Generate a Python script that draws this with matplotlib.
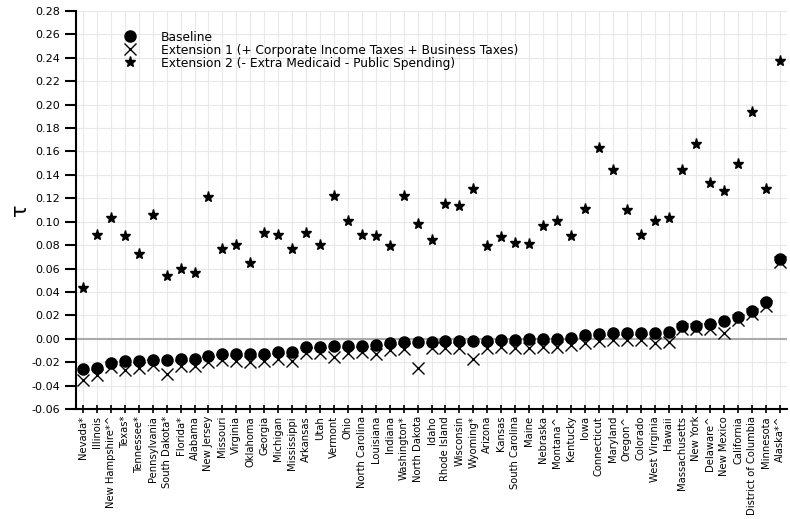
import matplotlib
matplotlib.use("Agg")
import matplotlib.pyplot as plt
import numpy as np

states = ["Nevada*", "Illinois", "New Hampshire*^", "Texas*", "Tennessee*", "Pennsylvania",
          "South Dakota*", "Florida*", "Alabama", "New Jersey", "Missouri", "Virginia",
          "Oklahoma", "Georgia", "Michigan", "Mississippi", "Arkansas", "Utah", "Vermont",
          "Ohio", "North Carolina", "Louisiana", "Indiana", "Washington*", "North Dakota",
          "Idaho", "Rhode Island", "Wisconsin", "Wyoming*", "Arizona", "Kansas",
          "South Carolina", "Maine", "Nebraska", "Montana^", "Kentucky", "Iowa",
          "Connecticut", "Maryland", "Oregon^", "Colorado", "West Virginia", "Hawaii",
          "Massachusetts", "New York", "Delaware^", "New Mexico", "California",
          "District of Columbia", "Minnesota", "Alaska*^"]

baseline = [-0.026, -0.025, -0.021, -0.019, -0.019, -0.018, -0.018, -0.017, -0.017, -0.015,
            -0.013, -0.013, -0.013, -0.013, -0.011, -0.011, -0.007, -0.007, -0.006, -0.006,
            -0.006, -0.005, -0.004, -0.003, -0.003, -0.003, -0.002, -0.002, -0.002, -0.002,
            -0.001, -0.001, 0.000, 0.000, 0.000, 0.001, 0.003, 0.004, 0.005, 0.005,
            0.005, 0.005, 0.006, 0.011, 0.011, 0.013, 0.015, 0.019, 0.024, 0.031, 0.068]

ext1 = [-0.035, -0.031, -0.024, -0.027, -0.025, -0.022, -0.030, -0.023, -0.023, -0.020,
        -0.018, -0.019, -0.020, -0.019, -0.017, -0.019, -0.012, -0.012, -0.016, -0.012,
        -0.011, -0.013, -0.010, -0.009, -0.025, -0.008, -0.008, -0.008, -0.017, -0.008,
        -0.007, -0.008, -0.008, -0.007, -0.007, -0.005, -0.004, -0.002, -0.001, -0.001,
        -0.001, -0.004, -0.003, 0.008, 0.008, 0.008, 0.005, 0.016, 0.021, 0.028, 0.066]

ext2 = [0.043, 0.089, 0.103, 0.088, 0.072, 0.106, 0.054, 0.060, 0.056, 0.121,
        0.077, 0.080, 0.065, 0.090, 0.089, 0.077, 0.090, 0.080, 0.122, 0.101,
        0.089, 0.088, 0.079, 0.122, 0.098, 0.084, 0.115, 0.113, 0.128, 0.079,
        0.087, 0.082, 0.081, 0.096, 0.101, 0.088, 0.111, 0.163, 0.144, 0.110,
        0.089, 0.101, 0.103, 0.144, 0.166, 0.133, 0.126, 0.149, 0.194, 0.128, 0.237]

yticks = [round(-0.06 + 0.02 * i, 2) for i in range(18)]

fig = plt.figure(figsize=(7.9, 5.19), dpi=100)
ax = fig.add_axes([76 / 790, 110 / 519, 711 / 790, 398 / 519])

x = np.arange(len(states))
ax.axhline(0, color="#aaaaaa", lw=1.5, zorder=1)
ax.plot(x, baseline, "o", color="black", ms=8, ls="none", label="Baseline", zorder=3)
ax.plot(x, ext1, "x", color="black", ms=9, mew=1.0, ls="none",
        label="Extension 1 (+ Corporate Income Taxes + Business Taxes)", zorder=3)
ax.plot(x, ext2, "*", color="black", ms=8, ls="none",
        label="Extension 2 (- Extra Medicaid - Public Spending)", zorder=3)

ax.set_xlim(-0.5, len(states) - 0.5)
ax.set_ylim(-0.06, 0.28)
ax.set_yticks(yticks)
ax.set_yticklabels([f"{v:.2f}" for v in yticks], fontsize=8)
ax.set_xticks(x)
ax.set_xticklabels(states, rotation=90, fontsize=7.2)
ax.grid(True, color="#e8e8e8", lw=0.8, zorder=0)
ax.set_axisbelow(True)
for s in ["top", "right"]:
    ax.spines[s].set_visible(False)
for s in ["left", "bottom"]:
    ax.spines[s].set_linewidth(1.5)
ax.tick_params(axis="y", length=8, width=1.5)
ax.tick_params(axis="x", length=6, width=1.2, direction="inout", pad=2)
ax.set_ylabel("τ", fontsize=15)
ax.yaxis.set_label_coords(-0.065, 0.5)

ax.legend(loc="upper left", bbox_to_anchor=(0.045, 0.975), frameon=False, fontsize=8.8,
          handletextpad=1.5, labelspacing=0.0, borderpad=0.3)

fig.savefig("out.png", dpi=100)
